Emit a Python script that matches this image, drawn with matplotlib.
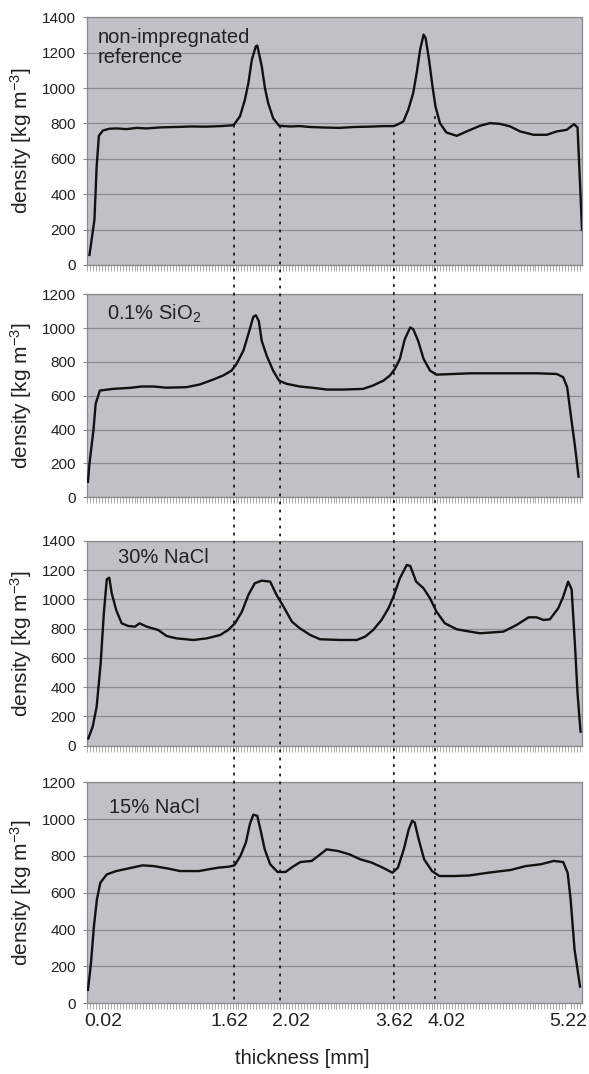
import matplotlib
matplotlib.use('Agg')
import matplotlib.pyplot as plt
from matplotlib.patches import ConnectionPatch
from matplotlib.ticker import MultipleLocator

plt.rcParams['font.family'] = ['Liberation Sans', 'DejaVu Sans']
plt.rcParams['mathtext.default'] = 'regular'

# ---------------- data (x = position across the panel width, % ; y = density kg/m3)
ref_x = [0.5, 1.5, 1.95, 2.4, 3.2, 4.5, 6, 8, 10, 12, 15, 18, 21, 24, 27, 29.6, 30.9, 31.9, 32.6,
         33.3, 34.1, 34.4, 35.3, 35.95, 36.6, 37.6, 38.8, 41, 43, 45, 48, 51, 54, 57, 60, 61.9, 62.6,
         63.9, 64.9, 65.9, 66.6, 67.3, 68.0, 68.4, 69.1, 69.8, 70.4, 71.3, 72.6, 74.7, 76.7, 79.4,
         81.4, 83.4, 85.5, 87.5, 90.2, 92.9, 94.9, 96.9, 98.4, 99.1, 99.6, 100]
ref_y = [57, 255, 557, 730, 760, 770, 772, 768, 775, 772, 778, 780, 783, 782, 785, 790, 840, 934, 1028,
         1160, 1236, 1240, 1123, 1000, 915, 830, 787, 783, 785, 780, 777, 775, 780, 782, 785, 785, 792,
         811, 877, 972, 1085, 1217, 1302, 1283, 1160, 1009, 896, 802, 749, 730, 755, 787,
         802, 798, 783, 755, 736, 736, 755, 764, 796, 777, 462, 198]

sio2_x = [0.2, 0.5, 1.3, 1.75, 2.6, 5.3, 8.7, 11, 13.4, 16, 20.1, 22.8, 25.5, 27.5, 29.2, 30.2, 31.6,
          32.6, 33.6, 34.1, 34.7, 35.3, 36.3, 37.6, 38.8, 40.3, 43.0, 45.7, 48.4, 52, 55.8, 57.8,
          59.9, 61.2, 62.2, 63.2, 64.2, 65.3, 65.9, 66.9, 68.0, 69.3, 70.6, 74.0, 77.4, 82, 86.8,
          91, 94.9, 96.2, 97.0, 97.7, 98.6, 99.3]
sio2_y = [92, 200, 396, 553, 631, 641, 647, 655, 655, 648, 651, 667, 696, 720, 749, 788, 867,
          965, 1067, 1076, 1043, 925, 837, 749, 690, 671, 655, 647, 637, 637, 641, 661,
          690, 720, 759, 818, 935, 1004, 994, 925, 818, 749, 725, 729, 733, 733, 733,
          733, 729, 710, 651, 494, 298, 122]

nacl30_x = [0.27, 1.15, 1.95, 2.76, 3.4, 4.0, 4.5, 5.0, 5.9, 7.0, 8.3, 9.7, 10.6, 12.1, 14.4, 16.1,
            18.1, 21.5, 24.2, 26.9, 28.5, 29.9, 31.3, 32.6, 33.9, 35.3, 37.0, 38.3, 39.7, 41.4, 43.0,
            45.1, 47.1, 51.1, 54.5, 56.2, 57.8, 59.5, 60.9, 61.9, 63.2, 64.6, 65.3, 66.5, 68.0, 69.3,
            70.6, 72.3, 74.7, 77.4, 79.4, 84.1, 86.8, 89.2, 90.8, 92.2, 93.5, 95.2, 96.2, 97.2, 97.9,
            98.6, 99.1, 99.7]
nacl30_y = [50, 130, 267, 563, 905, 1138, 1149, 1042, 928, 837, 819, 814, 837, 814, 791, 750,
            734, 723, 734, 757, 791, 837, 917, 1031, 1111, 1129, 1122, 1031, 951, 848, 803,
            757, 728, 723, 723, 746, 791, 860, 940, 1019, 1145, 1236, 1229, 1122, 1076, 1008,
            917, 837, 796, 780, 769, 780, 826, 878, 878, 860, 864, 940, 1019, 1122, 1069,
            677, 358, 96]

nacl15_x = [0.2, 0.8, 1.4, 2.0, 2.7, 4.0, 5.9, 9.0, 11.2, 13.5, 16.5, 18.8, 22.6, 26.4, 28.7, 29.8,
            31.0, 32.1, 32.9, 33.6, 34.4, 35.1, 35.9, 37.0, 38.5, 40.1, 41.6, 43.1, 45.4, 46.9, 48.4,
            50.7, 53.0, 55.2, 57.5, 59.8, 61.7, 62.8, 64.0, 65.0, 65.7, 66.2, 67.0, 68.1, 69.7, 71.2,
            74.2, 77.2, 81.0, 85.6, 88.6, 91.7, 94.3, 96.2, 97.1, 97.7, 98.5, 99.6]
nacl15_y = [73, 218, 418, 564, 655, 700, 718, 736, 749, 745, 731, 718, 718, 736, 742, 749,
            800, 873, 973, 1024, 1018, 936, 836, 755, 713, 713, 742, 767, 773, 804, 836,
            827, 809, 782, 764, 736, 709, 736, 836, 945, 991, 982, 891, 782, 718, 691,
            691, 694, 709, 724, 745, 755, 773, 767, 709, 564, 291, 91]

panel_labels = ["non-impregnated\nreference", "0.1% SiO$_2$", "30% NaCl", "15% NaCl"]
panel_ymax = [1400, 1200, 1400, 1200]

tick_positions = [3.37, 28.7, 41.25, 62.1, 72.7, 97.2]
tick_labels = ["0.02", "1.62", "2.02", "3.62", "4.02", "5.22"]

marker_positions = [29.7, 39.0, 62.0, 70.3]     # dotted guide lines
marker_top = [790, 785, 748, 838]               # where they start in the top panel

series = [(ref_x, ref_y), (sio2_x, sio2_y), (nacl30_x, nacl30_y), (nacl15_x, nacl15_y)]

# ---------------- figure
W, H = 589, 1074
fig = plt.figure(figsize=(W / 100, H / 100), dpi=100)

left, right = 87, 582
panel_px = [(17.3, 265.0), (294.3, 497.3), (541.0, 745.7), (782.3, 1003.3)]
label_pos = [(0.022, 0.955), (0.04, 0.96), (0.062, 0.964), (0.045, 0.93)]

bg = '#c0c1c6'
grid_c = '#8c8c90'
axes = []
for i, ((top, bot), (xs, ys)) in enumerate(zip(panel_px, series)):
    ax = fig.add_axes([left / W, 1 - bot / H, (right - left) / W, (bot - top) / H])
    ax.set_facecolor(bg)
    ax.plot(xs, ys, color='#111111', lw=1.7, solid_joinstyle='round', zorder=3)
    ax.set_xlim(0, 100)
    ax.set_ylim(0, panel_ymax[i])
    ax.set_yticks(range(0, panel_ymax[i] + 1, 200))
    ax.yaxis.grid(True, color=grid_c, lw=0.9)
    ax.set_axisbelow(True)
    for s in ax.spines.values():
        s.set_color('#8a8a8a')
        s.set_linewidth(0.9)
    ax.tick_params(axis='y', length=3, width=0.8, color='#8a8a8a', labelsize=11,
                   pad=5, labelcolor='#222222')
    ax.xaxis.set_minor_locator(MultipleLocator(0.6))
    ax.tick_params(axis='x', which='minor', length=4, width=0.6, color='#9a9a9a',
                   direction='out')
    if i == 3:
        ax.set_xticks(tick_positions, tick_labels)
        ax.tick_params(axis='x', which='major', length=0, labelsize=14, pad=7,
                       labelcolor='#222222')
    else:
        ax.set_xticks([])
    ax.set_ylabel("density [kg m$^{-3}$]", fontsize=15, color='#222222')
    ax.yaxis.set_label_coords(-0.107, 0.5)
    lx, ly = label_pos[i]
    ax.text(lx, ly, panel_labels[i], transform=ax.transAxes, ha='left', va='top',
            fontsize=14.5, color='#222222', linespacing=1.05)
    axes.append(ax)

# dotted guide lines crossing all panels
for xp, yt in zip(marker_positions, marker_top):
    con = ConnectionPatch(xyA=(xp, yt), coordsA=axes[0].transData,
                          xyB=(xp, 0), coordsB=axes[3].transData,
                          color='#111111', lw=1.2, linestyle=(0, (1, 3.8)), zorder=10)
    fig.add_artist(con)

fig.text(302 / W, 1 - 1058 / H, "thickness [mm]", ha='center', va='center',
         fontsize=14.5, color='#222222')

fig.savefig('out.png', dpi=100, facecolor='white')
